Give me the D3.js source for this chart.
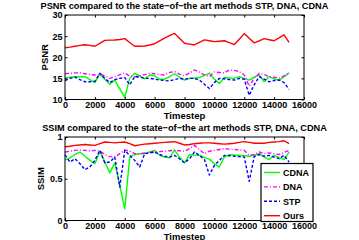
<!DOCTYPE html>
<html>
<head>
<meta charset="utf-8">
<script src="https://cdn.jsdelivr.net/npm/d3@7"></script>
<style>
  body { margin: 0; background: #fff; }
  svg text { font-family: "Liberation Sans", Arial, sans-serif; font-weight: bold; }
</style>
</head>
<body>
<div id="chart"></div>
<script>
// timesteps shared by every series
const timesteps = d3.range(46).map(i => Math.round(i * 15000 / 45))
const xTicks = [0, 2000, 4000, 6000, 8000, 10000, 12000, 14000, 16000]
const psnrTicks = [10, 15, 20, 25, 30]
const ssimTicks = [0, 0.5, 1]
const methods = ["CDNA", "DNA", "STP", "Ours"]

// PSNR values
const psnrOurs = [22.25,22.4,22.6,22.8,22.97,22.8,22.6,23.3,24.0,24.05,24.07,24.2,24.4,23.5,22.6,22.6,
  22.65,22.9,23.2,23.85,24.5,25.1,25.65,24.5,23.3,23.1,22.9,23.5,24.1,23.9,23.7,23.8,23.9,23.45,23.0,
  24.25,25.6,24.5,23.4,23.9,24.4,24.15,23.9,24.6,25.3,23.5]
const psnrCDNA = [15.1,15.3,15.4,15.4,15.4,14.7,14.0,16.0,14.8,13.6,14.6,12.5,10.5,15.0,16.2,15.6,
  14.9,15.8,15.6,14.8,14.8,15.4,16.1,15.3,14.6,15.0,15.1,15.2,15.7,16.2,14.8,13.8,15.2,15.1,15.0,
  15.4,15.0,14.6,15.3,15.9,14.2,15.4,14.9,14.6,15.4,16.3]
const psnrDNA = [16.1,16.2,16.3,16.3,16.1,15.9,15.8,15.9,15.6,15.0,15.4,15.9,16.3,15.5,15.4,15.6,
  15.9,16.2,16.1,15.9,15.8,16.4,16.6,16.0,15.6,16.3,17.0,16.5,15.8,15.4,16.5,16.4,16.3,17.0,16.9,
  16.6,15.8,13.2,15.0,16.2,15.9,15.4,15.3,15.1,15.6,16.2]
const psnrSTP = [14.5,15.0,15.3,14.7,14.2,14.2,14.3,16.2,15.0,14.0,14.7,15.0,15.2,13.5,15.4,15.3,
  15.0,15.0,14.8,14.6,14.5,14.4,14.7,15.0,14.8,15.0,15.0,14.6,13.6,12.6,14.0,15.0,14.9,14.7,14.6,
  15.0,14.8,11.0,13.5,15.4,14.8,14.2,14.5,14.6,14.0,12.4]

// SSIM values
const ssimOurs = [0.884,0.89,0.9,0.905,0.91,0.905,0.9,0.92,0.94,0.935,0.93,0.935,0.94,0.92,0.895,0.905,
  0.915,0.92,0.925,0.93,0.935,0.94,0.945,0.925,0.905,0.91,0.92,0.925,0.93,0.93,0.925,0.92,0.915,0.92,
  0.925,0.935,0.945,0.935,0.925,0.925,0.925,0.935,0.94,0.945,0.955,0.92]
const ssimCDNA = [0.725,0.75,0.79,0.82,0.77,0.72,0.68,0.83,0.7,0.57,0.69,0.42,0.14,0.76,0.79,0.8,
  0.8,0.82,0.84,0.78,0.76,0.75,0.845,0.76,0.69,0.79,0.78,0.78,0.755,0.735,0.68,0.64,0.76,0.79,0.785,
  0.78,0.775,0.77,0.78,0.8,0.76,0.73,0.78,0.755,0.73,0.82]
const ssimDNA = [0.82,0.83,0.84,0.845,0.84,0.835,0.84,0.83,0.79,0.765,0.76,0.8,0.845,0.83,0.8,0.8,
  0.81,0.815,0.82,0.825,0.83,0.835,0.84,0.835,0.83,0.86,0.9,0.85,0.8,0.83,0.84,0.85,0.86,0.855,0.85,
  0.845,0.84,0.78,0.79,0.82,0.8,0.81,0.8,0.79,0.815,0.84]
const ssimSTP = [0.785,0.7,0.74,0.68,0.61,0.64,0.72,0.84,0.69,0.7,0.76,0.4,0.84,0.78,0.72,0.64,
  0.8,0.81,0.82,0.79,0.77,0.76,0.78,0.74,0.69,0.74,0.82,0.78,0.73,0.545,0.66,0.72,0.78,0.775,0.77,
  0.765,0.76,0.47,0.765,0.79,0.77,0.78,0.76,0.74,0.78,0.7]

const styles = {
  CDNA: { color: "#00ff00", dash: null },
  DNA: { color: "#ff00ff", dash: "4,2,1,2" },
  STP: { color: "#0000ff", dash: "3,2" },
  Ours: { color: "#ff0000", dash: null }
}

const W = 359, H = 240
const svg = d3.select("#chart").append("svg")
  .attr("width", W)
  .attr("height", H)

const LEFT = 65, RIGHT = 304

function drawPanel(opt) {
  const x = d3.scaleLinear().domain([0, 16000]).range([LEFT, RIGHT])
  const y = d3.scaleLinear().domain(opt.domain).range([opt.bottom, opt.top])
  const g = svg.append("g")

  // series (drawn in plot order, Ours on top)
  const line = d3.line().x((d, i) => x(timesteps[i])).y(d => y(d))
  opt.series.forEach(s => {
    g.append("path")
      .datum(s.values)
      .attr("fill", "none")
      .attr("stroke", styles[s.name].color)
      .attr("stroke-width", 1.4)
      .attr("stroke-dasharray", styles[s.name].dash)
      .attr("stroke-linejoin", "round")
      .attr("d", line)
  })

  // box with inward ticks
  g.append("rect")
    .attr("x", LEFT).attr("y", opt.top)
    .attr("width", RIGHT - LEFT).attr("height", opt.bottom - opt.top)
    .attr("fill", "none").attr("stroke", "#000").attr("stroke-width", 1)

  const xAxis = g.append("g").attr("transform", `translate(0,${opt.bottom})`)
    .call(d3.axisBottom(x).tickValues(xTicks).tickSizeInner(-2.5).tickSizeOuter(0).tickPadding(2.5)
      .tickFormat(d3.format("d")))
  g.append("g").attr("transform", `translate(0,${opt.top})`)
    .call(d3.axisTop(x).tickValues(xTicks).tickSizeInner(-2.5).tickSizeOuter(0).tickFormat(""))
  const yAxis = g.append("g").attr("transform", `translate(${LEFT},0)`)
    .call(d3.axisLeft(y).tickValues(opt.ticks).tickSizeInner(-2.5).tickSizeOuter(0).tickPadding(2.5)
      .tickFormat(d3.format("~g")))
  g.append("g").attr("transform", `translate(${RIGHT},0)`)
    .call(d3.axisRight(y).tickValues(opt.ticks).tickSizeInner(-2.5).tickSizeOuter(0).tickFormat(""))
  g.selectAll(".domain").remove()
  g.selectAll(".tick line").attr("stroke", "#000")
  xAxis.selectAll("text").attr("font-size", 9).attr("fill", "#000")
  yAxis.selectAll("text").attr("font-size", 9).attr("fill", "#000")

  // title and labels
  g.append("text")
    .attr("x", (LEFT + RIGHT) / 2).attr("y", opt.top - 6)
    .attr("text-anchor", "middle").attr("font-size", 9.2)
    .text(opt.title)
  g.append("text")
    .attr("x", (LEFT + RIGHT) / 2).attr("y", opt.bottom + 19.5)
    .attr("text-anchor", "middle").attr("font-size", 9.5)
    .text("Timestep")
  g.append("text")
    .attr("transform", `translate(${opt.labelX},${(opt.top + opt.bottom) / 2}) rotate(-90)`)
    .attr("text-anchor", "middle").attr("font-size", 9.5)
    .text(opt.yLabel)
}

drawPanel({
  title: "PSNR compared to the state\u2212of\u2212the art methods STP, DNA, CDNA",
  yLabel: "PSNR", labelX: 48,
  domain: [10, 30], ticks: psnrTicks, top: 15, bottom: 99.5,
  series: [
    { name: "CDNA", values: psnrCDNA },
    { name: "DNA", values: psnrDNA },
    { name: "STP", values: psnrSTP },
    { name: "Ours", values: psnrOurs }
  ]
})

drawPanel({
  title: "SSIM compared to the state\u2212of\u2212the art methods STP, DNA, CDNA",
  yLabel: "SSIM", labelX: 44,
  domain: [0, 1], ticks: ssimTicks, top: 137, bottom: 220.5,
  series: [
    { name: "CDNA", values: ssimCDNA },
    { name: "DNA", values: ssimDNA },
    { name: "STP", values: ssimSTP },
    { name: "Ours", values: ssimOurs }
  ]
})

// legend of the SSIM panel
const legend = svg.append("g").attr("transform", "translate(261,163.5)")
legend.append("rect")
  .attr("width", 52).attr("height", 58)
  .attr("fill", "#fff").attr("stroke", "#000").attr("stroke-width", 1.2)
methods.forEach((m, i) => {
  const ly = 9 + i * 14.4
  legend.append("line")
    .attr("x1", 3).attr("x2", 19).attr("y1", ly).attr("y2", ly)
    .attr("stroke", styles[m].color).attr("stroke-width", 1.4)
    .attr("stroke-dasharray", styles[m].dash)
  legend.append("text")
    .attr("x", 22).attr("y", ly + 3.3)
    .attr("font-size", 9)
    .text(m)
})
</script>
</body>
</html>
